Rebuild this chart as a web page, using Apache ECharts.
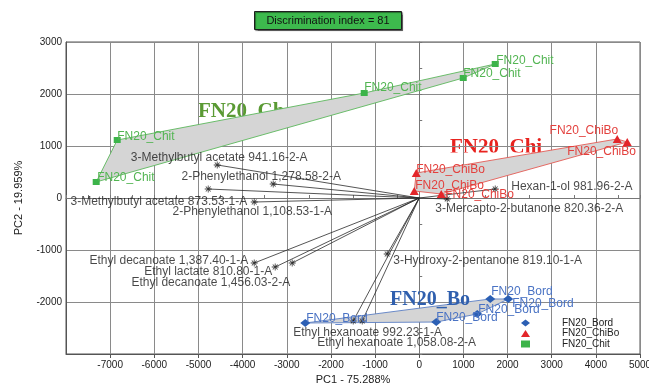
<!DOCTYPE html>
<html>
<head>
<meta charset="utf-8">
<script src="https://cdn.jsdelivr.net/npm/echarts@6/dist/echarts.min.js"></script>
<style>
  html, body { margin: 0; padding: 0; background: #fff; }
  #chart { width: 649px; height: 384px; }
</style>
</head>
<body>
<div id="chart"></div>
<script>
// PCA scores per product group: [PC1, PC2]
const chitScores  = [[-7316, 308], [-6840, 1115], [-1246, 2019], [997, 2308], [1721, 2577]];
const chiboScores = [[4485, 1135], [4711, 1077], [-68, 481], [-113, 135], [498, 77]];
const bordScores  = [[-2582, -2404], [385, -2385], [1314, -2231], [1608, -1942], [2016, -1942]];

// Variable loadings (scaled into score space)
const loadingNames = [
  '3-Methylbutyl acetate 941.16-2-A',
  '2-Phenylethanol 1,278.58-2-A',
  '2-Phenylethanol 1,108.53-1-A',
  '3-Methylbutyl acetate 873.53-1-A',
  'Ethyl decanoate 1,387.40-1-A',
  'Ethyl lactate 810.80-1-A',
  'Ethyl decanoate 1,456.03-2-A',
  '3-Hydroxy-2-pentanone 819.10-1-A',
  'Ethyl hexanoate 992.23-1-A',
  'Ethyl hexanoate 1,058.08-2-A',
  'Hexan-1-ol 981.96-2-A',
  '3-Mercapto-2-butanone 820.36-2-A'
];
const loadingPC1 = [-4575, -3307, -4779, -3737, -3737, -3262, -2877, -725, -1495, -1291, 1721, 634];
const loadingPC2 = [635, 269, 173, -77, -1250, -1327, -1250, -1077, -2365, -2365, 173, -19];

const groupNames = ['FN20_Bord', 'FN20_ChiBo', 'FN20_Chit'];
const groupTags = ['FN20_Bo', 'FN20_Chi', 'FN20_Ch'];

// Label placement: [align, dx, dy] from the marker centre
const chitLabelPos  = [['left', 1, -4], ['left', 0, -3], ['left', 0, -5], ['left', 0, -4], ['left', 1, -3]];
const chiboLabelPos = [['right', 1, -8], ['left', -60, 10], ['left', 0, -3], ['left', 1, -5], ['left', 4, 1]];
const bordLabelPos  = [['left', 1, -4], ['left', 0, -4], ['left', 1, -4], ['left', 1, -7], ['left', 4, 5]];
const loadingLabelPos = [
  ['center', 2, -7], ['center', -12, -7], ['center', 44, 23], ['right', -7, 0],
  ['right', -6, -2], ['right', -3, 5], ['right', -2, 20], ['left', 6, 7],
  ['left', -60, 12], ['left', -45, 22], ['left', 16, -2], ['left', -12, 10]
];

const FONT = '"Liberation Sans", Arial, sans-serif';
const SERIF = '"Liberation Serif", "Times New Roman", serif';

const colors = {
  bord:  { mark: '#2b5fb4', text: '#4a73c4', tag: '#2f5fae' },
  chibo: { mark: '#e3262a', text: '#e3403d', tag: '#e8231f' },
  chit:  { mark: '#3cb44a', text: '#52b552', tag: '#5a9a34' }
};

// Closed group outline: vertices ordered by angle round their centre
function groupArea(points, stroke) {
  return {
    type: 'custom',
    silent: true,
    z: 2,
    data: points,
    encode: { x: 0, y: 1 },
    renderItem: function (params, api) {
      if (params.dataIndex !== 0) return null;
      const px = points.map(function (p) { return api.coord(p); });
      let cx = 0, cy = 0;
      px.forEach(function (p) { cx += p[0]; cy += p[1]; });
      cx /= px.length; cy /= px.length;
      px.sort(function (a, b) {
        return Math.atan2(cy - a[1], a[0] - cx) - Math.atan2(cy - b[1], b[0] - cx);
      });
      return {
        type: 'polygon',
        shape: { points: px },
        style: { fill: '#d5d5d5', stroke: stroke, lineWidth: 0.9 }
      };
    }
  };
}

function groupScatter(name, points, symbol, size, col, placement) {
  return {
    type: 'scatter',
    name: name,
    z: 5,
    symbol: symbol,
    symbolSize: size,
    itemStyle: { color: col.mark, opacity: 1 },
    data: points.map(function (p, i) {
      return {
        value: p,
        label: { align: placement[i][0], offset: [placement[i][1], placement[i][2]] }
      };
    }),
    label: {
      show: true,
      position: 'inside',
      verticalAlign: 'middle',
      formatter: name,
      color: col.text,
      fontSize: 12,
      fontFamily: FONT
    }
  };
}

const asterisk = 'path://M4.4,0h1.2v10h-1.2z M0,4.4h10v1.2h-10z M1.1,1.95l0.85,-0.85l6.95,6.95l-0.85,0.85z M8.05,1.1l0.85,0.85l-6.95,6.95l-0.85,-0.85z';

const loadingData = loadingNames.map(function (n, i) {
  return {
    name: n,
    value: [loadingPC1[i], loadingPC2[i]],
    label: { align: loadingLabelPos[i][0], offset: [loadingLabelPos[i][1], loadingLabelPos[i][2]] }
  };
});

const plainNumber = function (v) { return String(v); };

const chart = echarts.init(document.getElementById('chart'), null, { renderer: 'canvas' });

const option = {
  animation: false,
  backgroundColor: '#ffffff',
  textStyle: { fontFamily: FONT },
  grid: {
    left: 66, right: 9, top: 42, bottom: 30,
    outerBoundsMode: 'none',
    containLabel: false,
    show: true, borderColor: '#555', borderWidth: 1, backgroundColor: 'transparent'
  },
  xAxis: [
    {
      type: 'value', min: -8000, max: 5000, interval: 1000, position: 'bottom',
      name: 'PC1 - 75.288%', nameLocation: 'middle', nameGap: 18,
      nameTextStyle: { fontSize: 11, color: '#222', fontFamily: FONT },
      axisLine: { onZero: false, lineStyle: { color: '#555' } },
      axisTick: { show: true, length: 4, lineStyle: { color: '#555' } },
      axisLabel: { fontSize: 10, color: '#222', margin: 6, showMinLabel: false, fontFamily: FONT, formatter: plainNumber },
      splitLine: { show: true, lineStyle: { color: '#8a8a8a', width: 1 } }
    },
    {
      type: 'value', min: -8000, max: 5000, interval: 500, position: 'top',
      axisLine: { show: true, onZero: true, lineStyle: { color: '#777' } },
      axisTick: { show: true, length: 3, lineStyle: { color: '#777' } },
      axisLabel: { show: false },
      splitLine: { show: false }
    }
  ],
  yAxis: [
    {
      type: 'value', min: -3000, max: 3000, interval: 1000, position: 'left',
      name: 'PC2 - 19.959%', nameLocation: 'middle', nameGap: 42,
      nameTextStyle: { fontSize: 11, color: '#222', fontFamily: FONT },
      axisLine: { onZero: false, lineStyle: { color: '#555' } },
      axisTick: { show: false },
      axisLabel: { fontSize: 10, color: '#222', margin: 4, showMinLabel: false, fontFamily: FONT, formatter: plainNumber },
      splitLine: { show: true, lineStyle: { color: '#8a8a8a', width: 1 } }
    },
    {
      type: 'value', min: -3000, max: 3000, interval: 500, position: 'right',
      axisLine: { show: true, onZero: true, lineStyle: { color: '#777' } },
      axisTick: { show: true, length: 3, lineStyle: { color: '#777' } },
      axisLabel: { show: false },
      splitLine: { show: false }
    }
  ],
  legend: {
    data: groupNames,
    orient: 'vertical',
    left: 521, top: 318,
    padding: 0,
    itemGap: 0.5,
    itemWidth: 9, itemHeight: 7,
    selectedMode: false,
    formatter: '{t|{name}}',
    textStyle: {
      fontSize: 10, color: '#222', lineHeight: 9, fontFamily: FONT,
      rich: { t: { fontSize: 10, color: '#222', lineHeight: 9, padding: [0, 0, 0, 27], fontFamily: FONT } }
    }
  },
  graphic: [
    {
      type: 'group', left: 254, top: 11,
      children: [
        { type: 'rect', shape: { x: 0, y: 0, width: 147, height: 18 },
          style: { fill: '#3dba4d', stroke: '#1f1f1f', lineWidth: 1,
                   shadowColor: 'rgba(0,0,0,0.45)', shadowOffsetX: 1, shadowOffsetY: 1, shadowBlur: 1 } },
        { type: 'text', x: 73.5, y: 9.5,
          style: { text: 'Discrimination index = 81', align: 'center', verticalAlign: 'middle',
                   font: '11px ' + FONT, fill: '#111' } }
      ]
    },
    { type: 'text', x: 198, y: 112, z: -1,
      style: { text: groupTags[2], font: 'bold 21px ' + SERIF, fill: colors.chit.tag, verticalAlign: 'middle' } },
    { type: 'text', x: 450, y: 148, z: -1,
      style: { text: groupTags[1], font: 'bold 21px ' + SERIF, fill: colors.chibo.tag, verticalAlign: 'middle' } },
    { type: 'rect', z: -1, shape: { x: 446, y: 152.5, width: 102, height: 8 }, style: { fill: '#fff' } },
    { type: 'text', x: 390, y: 300, z: 3,
      style: { text: groupTags[0], font: 'bold 20px ' + SERIF, fill: colors.bord.tag, verticalAlign: 'middle' } }
  ],
  series: [
    groupArea(chitScores, '#5cb85c'),
    groupArea(chiboScores, '#e35b55'),
    groupArea(bordScores, '#5b7fc4'),
    {
      type: 'custom',
      silent: true,
      z: 3,
      data: loadingNames.map(function (n, i) { return [loadingPC1[i], loadingPC2[i]]; }),
      encode: { x: 0, y: 1 },
      renderItem: function (params, api) {
        const o = api.coord([0, 0]);
        const e = api.coord([api.value(0), api.value(1)]);
        return {
          type: 'line',
          shape: { x1: o[0], y1: o[1], x2: e[0], y2: e[1] },
          style: { stroke: '#2a2a2a', lineWidth: 0.8 }
        };
      }
    },
    {
      type: 'scatter',
      name: 'loadings',
      z: 4,
      symbol: asterisk,
      symbolSize: 7,
      itemStyle: { color: '#151515' },
      data: loadingData,
      label: {
        show: true, position: 'inside', verticalAlign: 'middle',
        formatter: '{b}', color: '#1a1a1a', fontSize: 12, fontFamily: FONT
      }
    },
    groupScatter('FN20_Bord', bordScores, 'diamond', [10, 8], colors.bord, bordLabelPos),
    groupScatter('FN20_ChiBo', chiboScores, 'triangle', [9, 8], colors.chibo, chiboLabelPos),
    groupScatter('FN20_Chit', chitScores, 'rect', [7, 6], colors.chit, chitLabelPos)
  ]
};

chart.setOption(option);
</script>
</body>
</html>
